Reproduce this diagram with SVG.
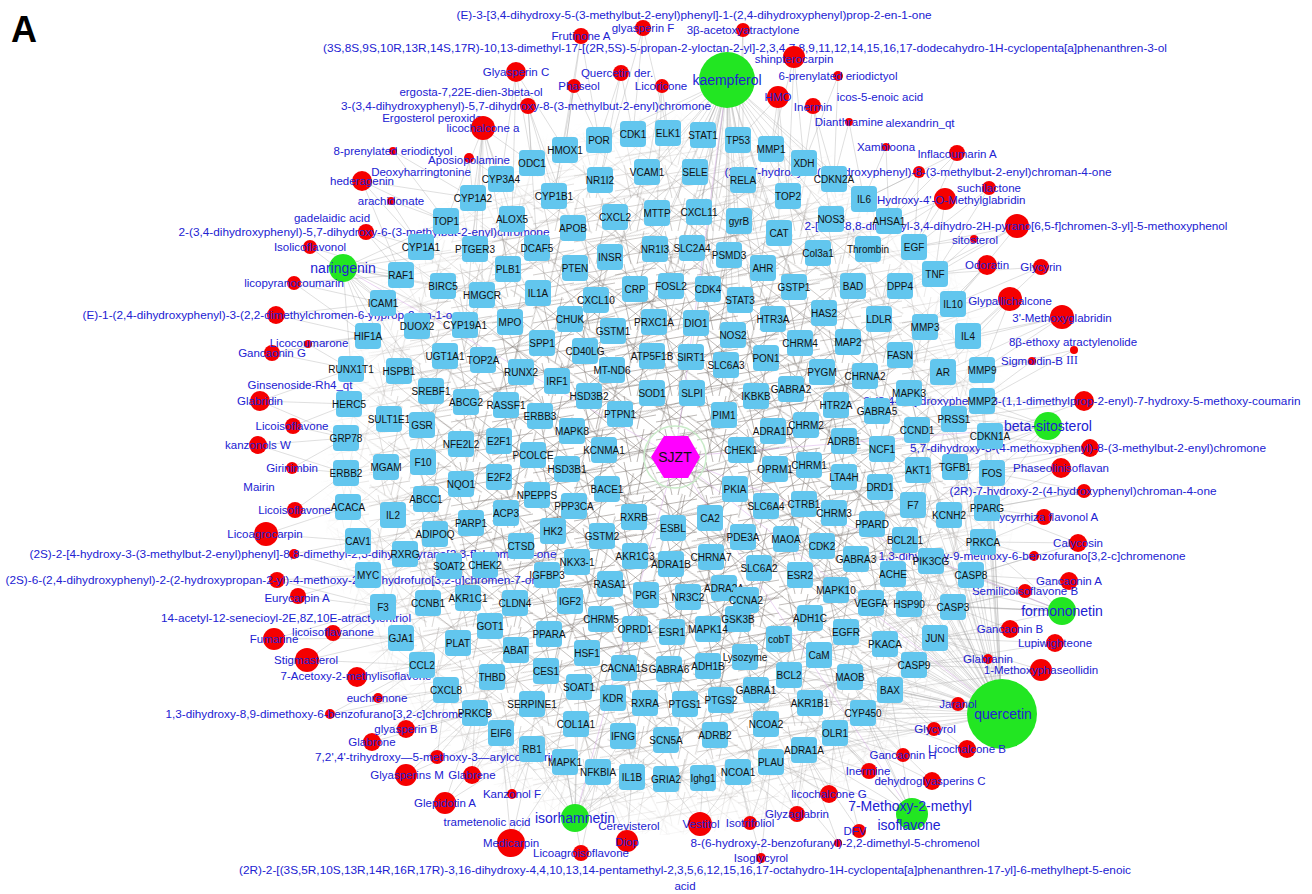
<svg xmlns="http://www.w3.org/2000/svg" xmlns:xlink="http://www.w3.org/1999/xlink" width="1312" height="894" viewBox="0 0 1312 894">
<style>
.e{fill:none;stroke:#9c9c9c;stroke-width:.6;stroke-opacity:.55}
.ep{fill:none;stroke:#d7a8e6;stroke-width:.7;stroke-opacity:.7}
.hb{fill:none;stroke:#746c66;stroke-width:.5}
.g text{font-family:"Liberation Sans",Arial,sans-serif;font-size:10px;fill:#111;text-anchor:middle;dominant-baseline:central}
.c circle{fill:#f50000}
.k circle{fill:#22e622}
.c text,.k text,.t text{font-family:"Liberation Sans",Arial,sans-serif;font-size:11.5px;fill:#2121d2;text-anchor:middle;dominant-baseline:central}
.k text{font-size:14px}
</style>
<defs>
<rect id="b" x="-13" y="-13" width="26" height="26" rx="4" fill="#62c6ee"/>
<pattern id="pa" width="41" height="33" patternUnits="userSpaceOnUse"><path class="hb" d="M0 0L41 33M41 0L0 33M0 11L41 4M0 26L41 19M9 0L16 33M29 0L22 33"/></pattern>
<pattern id="pb" width="53" height="47" patternUnits="userSpaceOnUse" patternTransform="rotate(23)"><path class="hb" d="M0 0L53 47M53 0L0 47M0 20L53 30M26 0L34 47M0 40L53 8"/></pattern>
<radialGradient id="hg" cx="0.5" cy="0.52" r="0.5"><stop offset="0" stop-color="#fff"/><stop offset="0.5" stop-color="#fff" stop-opacity="0.9"/><stop offset="0.8" stop-color="#fff" stop-opacity="0.5"/><stop offset="1" stop-color="#fff" stop-opacity="0"/></radialGradient>
<mask id="hm" maskUnits="userSpaceOnUse" x="0" y="0" width="1312" height="894"><ellipse cx="670" cy="465" rx="350" ry="370" fill="url(#hg)"/></mask>
</defs>
<rect width="1312" height="894" fill="#fff"/>
<text x="11" y="42" font-family="Liberation Sans, Arial, sans-serif" font-weight="bold" font-size="36">A</text>

<g id="connectors">
<rect x="300" y="80" width="760" height="780" fill="url(#pa)" mask="url(#hm)"/>
<rect x="300" y="80" width="760" height="780" fill="url(#pb)" mask="url(#hm)"/>
<path class="e" d="M581 36L599 140M581 36L565 150M581 36L554 196M643 28L633 134M643 28L600 180M643 28L668 133M743 30L738 140M743 30L743 180M794 57L771 149M794 57L804 163M794 57L788 196
M727 80L703 135M727 80L738 140M727 80L668 133M727 80L695 172M727 80L743 180M727 80L699 212M727 80L739 221M727 80L729 255M727 80L763 268M727 80L708 289M727 80L740 300M727 80L733 335M727 80L691 357M727 80L771 149M727 80L779 233M727 80L633 134M727 80L647 172M727 80L657 213M727 80L655 249M727 80L615 217M727 80L599 140M727 80L610 257M727 80L635 289M727 80L671 286M727 80L692 248M727 80L804 163M727 80L834 179M727 80L864 199M727 80L831 219M727 80L818 253M727 80L794 287M727 80L696 323M727 80L726 365M727 80L652 393
M516 72L532 163M516 72L501 179M516 72L565 150M516 72L512 219M621 73L633 134M621 73L599 140M621 73L600 180M574 86L565 150M574 86L599 140M574 86L554 196M662 86L668 133M662 86L647 172M662 86L657 213
M528 106L532 163M528 106L554 196M528 106L537 248M528 106L573 228M483 128L501 179M483 128L473 198M483 128L446 221M483 128L475 249M483 128L532 163M483 128L512 219M483 128L482 295M483 128L508 269M483 128L465 325
M838 76L804 163M838 76L834 179M778 97L771 149M778 97L738 140M778 97L788 196M778 97L779 233M813 106L804 163M813 106L834 179M813 106L831 219M849 122L834 179M849 122L864 199M886 147L864 199M886 147L889 221M957 153L889 221M957 153L914 247M957 153L864 199
M393 151L473 198M393 151L446 221M469 158L501 179M469 158L473 198M362 181L421 247M362 181L446 221M362 181L401 275M362 181L473 198M391 201L421 247M391 201L446 221M366 232L421 247M366 232L401 275M366 232L443 286M310 247L401 275M310 247L383 303
M343 268L401 275M343 268L421 247M343 268L383 303M343 268L368 336M343 268L443 286M343 268L417 326M343 268L351 369M343 268L399 371M343 268L446 221M343 268L465 325M343 268L482 295M343 268L431 391M343 268L475 249M294 283L383 303M294 283L368 336M294 283L401 275
M919 172L889 221M919 172L864 199M919 172L914 247M989 188L914 247M989 188L935 274M945 199L914 247M945 199L935 274M945 199L889 221M945 199L868 249M1017 226L935 274M1017 226L914 247M1017 226L953 304M1017 226L900 286M974 239L935 274M974 239L914 247M987 265L935 274M987 265L953 304M987 265L925 327M1041 267L953 304M1041 267L968 336M1041 267L935 274
M1010 299L953 304M1010 299L968 336M1010 299L925 327M1010 299L943 372M1010 299L982 370M1062 317L968 336M1062 317L982 370M1062 317L943 372M1062 317L900 355M1074 350L982 370M1074 350L982 401M1032 361L982 370M1032 361L954 419M1084 401L982 401M1084 401L990 436M1084 401L954 419
M1048 426L990 436M1048 426L982 401M1048 426L954 419M1048 426L955 467M1048 426L992 473M1048 426L917 430M1048 426L909 393M1048 426L918 470M1048 426L987 508M1048 426L882 449M1090 448L990 436M1090 448L992 473M1090 448L955 467M1061 468L992 473M1061 468L987 508M1061 468L955 467M1084 491L992 473M1084 491L987 508M1084 491L949 515
M1044 517L987 508M1044 517L983 542M1044 517L949 515M1078 543L983 542M1078 543L987 508M1078 543L971 575M1034 556L983 542M1034 556L971 575M1069 581L971 575M1069 581L953 607M1025 591L971 575M1025 591L953 607M1025 591L931 561
M1062 611L953 607M1062 611L935 638M1062 611L971 575M1062 611L909 604M1062 611L983 542M1062 611L931 561M1062 611L893 574M1062 611L871 603M1010 629L953 607M1010 629L935 638M1055 643L935 638M1055 643L914 665M988 659L935 638M988 659L914 665M1041 670L935 638M1041 670L914 665M1041 670L890 690
M1002 714L890 690M1002 714L914 665M1002 714L935 638M1002 714L863 713M1002 714L885 644M1002 714L953 607M1002 714L909 604M1002 714L871 603M1002 714L846 632M1002 714L850 677M1002 714L835 733M1002 714L810 703M1002 714L804 750M1002 714L971 575M1002 714L983 542M1002 714L931 561M1002 714L893 574M1002 714L905 540M1002 714L918 470M1002 714L917 430M1002 714L955 467M1002 714L992 473M1002 714L987 508M1002 714L949 515M1002 714L913 505M1002 714L882 449M1002 714L909 393M1002 714L954 419M1002 714L990 436M1002 714L982 401M1002 714L982 370M1002 714L789 675M1002 714L819 655M1002 714L779 639M1002 714L810 618M1002 714L836 590M1002 714L800 575M1002 714L856 559M1002 714L822 546M1002 714L872 524M1002 714L880 487M1002 714L844 477M1002 714L844 441M1002 714L766 724M1002 714L771 762M1002 714L756 690M1002 714L745 657M1002 714L738 619M1002 714L786 539M1002 714L766 506M1002 714L834 513
M958 704L863 713M958 704L890 690M934 729L863 713M934 729L890 690M934 729L835 733M967 749L863 713M967 749L890 690M903 755L863 713M903 755L835 733M932 781L835 733M932 781L863 713M869 771L835 733M869 771L804 750M829 794L804 750M829 794L771 762M829 794L835 733
M912 814L835 733M912 814L863 713M912 814L804 750M912 814L771 762M912 814L810 703M912 814L850 677M912 814L890 690M859 831L804 750M859 831L835 733M797 814L771 762M797 814L738 772M797 814L804 750M750 823L738 772M750 823L771 762M700 824L703 778M700 824L738 772M700 824L666 779M838 843L804 750M838 843L771 762M761 858L738 772M761 858L771 762
M627 841L632 777M627 841L598 772M581 853L565 762M581 853L598 772M511 843L532 749M511 843L501 733M511 843L565 762M575 818L565 762M575 818L598 772M575 818L632 777M575 818L532 749M575 818L501 733M575 818L666 779M575 818L623 736M575 818L576 724M575 818L666 740M575 818L613 698M575 818L579 687
M445 803L501 733M445 803L532 749M445 803L475 713M512 794L501 733M512 794L532 749M406 775L475 713M406 775L501 733M472 775L501 733M472 775L475 713M437 757L475 713M437 757L446 690M372 742L446 690M372 742L475 713M406 729L446 690M406 729L475 713M330 714L446 690M330 714L422 665M378 698L422 665M378 698L446 690M357 677L422 665M357 677L401 638
M307 660L401 638M307 660L422 665M307 660L383 607M274 639L383 607M274 639L401 638M333 633L383 607M333 633L401 638M298 596L383 607M298 596L368 575M277 580L368 575M277 580L383 607M294 554L358 541M294 554L368 575M266 534L358 541M266 534L348 507M295 510L348 507M295 510L346 473M292 468L346 473M292 468L346 438M258 445L346 438M258 445L346 473M293 426L346 438M293 426L349 404M260 401L349 404M260 401L346 438M260 401L351 369M272 353L351 369M272 353L368 336M308 344L368 336M308 344L351 369M276 315L383 303M276 315L368 336"/>
<path class="ep" d="M675 457L727 80M675 457L1002 714M675 457L343 268M675 457L1048 426M675 457L1062 611M675 457L912 814M675 457L575 818"/>
<circle cx="675" cy="457" r="31" fill="none" stroke="#c9ebc9" stroke-width="1.5"/>
</g>

<g id="compounds">
<g id="c1" class="t"><text x="694" y="15" textLength="475" lengthAdjust="spacingAndGlyphs">(E)-3-[3,4-dihydroxy-5-(3-methylbut-2-enyl)phenyl]-1-(2,4-dihydroxyphenyl)prop-2-en-1-one</text></g>
<g id="c2" class="c" transform="translate(581 36)"><circle r="8"/><text>Frutinone A</text></g>
<g id="c3" class="c" transform="translate(643 28)"><circle r="8"/><text>glyasperin F</text></g>
<g id="c4" class="t"><text x="745" y="48" textLength="844" lengthAdjust="spacingAndGlyphs">(3S,8S,9S,10R,13R,14S,17R)-10,13-dimethyl-17-[(2R,5S)-5-propan-2-yloctan-2-yl]-2,3,4,7,8,9,11,12,14,15,16,17-dodecahydro-1H-cyclopenta[a]phenanthren-3-ol</text></g>
<g id="c5" class="c" transform="translate(743 30)"><circle r="7"/><text>3β-acetoxyatractylone</text></g>
<g id="c6" class="c" transform="translate(794 57)"><circle r="11"/><text y="2">shinpterocarpin</text></g>
<g id="c7" class="k" transform="translate(727 80)"><circle r="28"/><text>kaempferol</text></g>
<g id="c8" class="c" transform="translate(516 72)"><circle r="10"/><text>Glyasperin C</text></g>
<g id="c9" class="c" transform="translate(621 73)"><circle r="8"/><text x="-4">Quercetin der.</text></g>
<g id="c10" class="c" transform="translate(574 86)"><circle r="7"/><text x="5">Phaseol</text></g>
<g id="c11" class="c" transform="translate(662 86)"><circle r="7"/><text x="-1">Licoricone</text></g>
<g id="c12" class="t"><text x="471" y="92">ergosta-7,22E-dien-3beta-ol</text></g>
<g id="c13" class="c" transform="translate(528 106)"><circle r="8"/><text x="-2" textLength="370" lengthAdjust="spacingAndGlyphs">3-(3,4-dihydroxyphenyl)-5,7-dihydroxy-8-(3-methylbut-2-enyl)chromone</text></g>
<g id="c14" class="t"><text x="432" y="118">Ergosterol peroxide</text></g>
<g id="c15" class="c" transform="translate(483 128)"><circle r="12"/><text>licochalcone a</text></g>
<g id="c16" class="c" transform="translate(838 76)"><circle r="5"/><text>6-prenylated eriodictyol</text></g>
<g id="c17" class="c" transform="translate(778 97)"><circle r="11"/><text>HMO</text></g>
<g id="c18" class="c" transform="translate(813 106)"><circle r="8"/><text y="1">Inermin</text></g>
<g id="c19" class="t"><text x="880" y="97">icos-5-enoic acid</text></g>
<g id="c20" class="c" transform="translate(849 122)"><circle r="4"/><text>Dianthramine</text></g>
<g id="c21" class="t"><text x="920" y="123">alexandrin_qt</text></g>
<g id="c22" class="c" transform="translate(886 147)"><circle r="4"/><text>Xambioona</text></g>
<g id="c23" class="c" transform="translate(957 153)"><circle r="8"/><text y="1">Inflacoumarin A</text></g>
<g id="c24" class="c" transform="translate(393 151)"><circle r="4"/><text>8-prenylated eriodictyol</text></g>
<g id="c25" class="c" transform="translate(469 158)"><circle r="5"/><text y="2">Aposiopolamine</text></g>
<g id="c26" class="t"><text x="421" y="172">Deoxyharringtonine</text></g>
<g id="c27" class="c" transform="translate(362 181)"><circle r="10"/><text>hederagenin</text></g>
<g id="c28" class="c" transform="translate(391 201)"><circle r="4"/><text>arachidonate</text></g>
<g id="c29" class="t"><text x="332" y="218">gadelaidic acid</text></g>
<g id="c30" class="c" transform="translate(366 232)"><circle r="8"/><text x="-2" textLength="371" lengthAdjust="spacingAndGlyphs">2-(3,4-dihydroxyphenyl)-5,7-dihydroxy-6-(3-methylbut-2-enyl)chromone</text></g>
<g id="c31" class="c" transform="translate(310 247)"><circle r="7"/><text>Isolicoflavonol</text></g>
<g id="c32" class="k" transform="translate(343 268)"><circle r="14"/><text>naringenin</text></g>
<g id="c33" class="c" transform="translate(294 283)"><circle r="7"/><text>licopyranocoumarin</text></g>
<g id="c34" class="c" transform="translate(919 172)"><circle r="6"/><text x="-1" textLength="387" lengthAdjust="spacingAndGlyphs">(2S)-7-hydroxy-2-(4-hydroxyphenyl)-8-(3-methylbut-2-enyl)chroman-4-one</text></g>
<g id="c35" class="c" transform="translate(989 188)"><circle r="7"/><text>suchilactone</text></g>
<g id="c36" class="c" transform="translate(945 199)"><circle r="11"/><text y="1">3'-Hydroxy-4'-O-Methylglabridin</text></g>
<g id="c37" class="c" transform="translate(1017 226)"><circle r="12"/><text x="-1" textLength="423" lengthAdjust="spacingAndGlyphs">2-[(3R)-8,8-dimethyl-3,4-dihydro-2H-pyrano[6,5-f]chromen-3-yl]-5-methoxyphenol</text></g>
<g id="c38" class="c" transform="translate(974 239)"><circle r="4"/><text x="1" y="1">sitosterol</text></g>
<g id="c39" class="c" transform="translate(987 265)"><circle r="10"/><text>Odoratin</text></g>
<g id="c40" class="c" transform="translate(1041 267)"><circle r="8"/><text>Glycyrin</text></g>
<g id="c41" class="c" transform="translate(1010 299)"><circle r="12"/><text y="2">Glypallichalcone</text></g>
<g id="c42" class="c" transform="translate(1062 317)"><circle r="12"/><text y="1">3'-Methoxyglabridin</text></g>
<g id="c43" class="c" transform="translate(1074 350)"><circle r="4"/><text x="-1" y="-8">8β-ethoxy atractylenolide</text><text x="-2" y="10" style="font-family:'Liberation Serif',serif">III</text></g>
<g id="c44" class="c" transform="translate(1032 361)"><circle r="4"/><text>Sigmoidin-B</text></g>
<g id="c45" class="c" transform="translate(1084 401)"><circle r="10"/><text x="-2" textLength="437" lengthAdjust="spacingAndGlyphs">3-(3,4-dihydroxyphenyl)-8-(1,1-dimethylprop-2-enyl)-7-hydroxy-5-methoxy-coumarin</text></g>
<g id="c46" class="k" transform="translate(1048 426)"><circle r="14"/><text>beta-sitosterol</text></g>
<g id="c47" class="c" transform="translate(1090 448)"><circle r="9"/><text x="-2" textLength="356" lengthAdjust="spacingAndGlyphs">5,7-dihydroxy-3-(4-methoxyphenyl)-8-(3-methylbut-2-enyl)chromone</text></g>
<g id="c48" class="c" transform="translate(1061 468)"><circle r="10"/><text>Phaseolinisoflavan</text></g>
<g id="c49" class="c" transform="translate(1084 491)"><circle r="7"/><text x="-1" textLength="267" lengthAdjust="spacingAndGlyphs">(2R)-7-hydroxy-2-(4-hydroxyphenyl)chroman-4-one</text></g>
<g id="c50" class="c" transform="translate(1044 517)"><circle r="8"/><text x="-1">Glycyrrhiza flavonol A</text></g>
<g id="c51" class="c" transform="translate(1078 543)"><circle r="9"/><text>Calycosin</text></g>
<g id="c52" class="c" transform="translate(1034 556)"><circle r="5"/><text x="-2" textLength="307" lengthAdjust="spacingAndGlyphs">1,3-dihydroxy-9-methoxy-6-benzofurano[3,2-c]chromenone</text></g>
<g id="c53" class="c" transform="translate(1069 581)"><circle r="9"/><text>Gancaonin A</text></g>
<g id="c54" class="c" transform="translate(1025 591)"><circle r="7"/><text>Semilicoisoflavone B</text></g>
<g id="c55" class="k" transform="translate(1062 611)"><circle r="14"/><text>formononetin</text></g>
<g id="c56" class="c" transform="translate(1010 629)"><circle r="9"/><text>Gancaonin B</text></g>
<g id="c57" class="c" transform="translate(1055 643)"><circle r="9"/><text>Lupiwighteone</text></g>
<g id="c58" class="c" transform="translate(988 659)"><circle r="5"/><text>Glabranin</text></g>
<g id="c59" class="c" transform="translate(1041 670)"><circle r="11"/><text>1-Methoxyphaseollidin</text></g>
<g id="c60" class="k" transform="translate(1002 714)"><circle r="35"/><text x="1">quercetin</text></g>
<g id="c61" class="c" transform="translate(958 704)"><circle r="7"/><text>Jaranol</text></g>
<g id="c62" class="c" transform="translate(934 729)"><circle r="7"/><text x="1">Glycyrol</text></g>
<g id="c63" class="c" transform="translate(967 749)"><circle r="9"/><text>Licochalcone B</text></g>
<g id="c64" class="c" transform="translate(903 755)"><circle r="7"/><text>Gancaonin H</text></g>
<g id="c65" class="c" transform="translate(932 781)"><circle r="9"/><text x="-2">dehydroglyasperins C</text></g>
<g id="c66" class="c" transform="translate(869 771)"><circle r="8"/><text x="-1">Inermine</text></g>
<g id="c67" class="c" transform="translate(829 794)"><circle r="9"/><text>licochalcone G</text></g>
<g id="c68" class="k" transform="translate(912 814)"><circle r="16"/><text x="-2" y="-8">7-Methoxy-2-methyl</text><text x="-3" y="11">isoflavone</text></g>
<g id="c69" class="c" transform="translate(859 831)"><circle r="7"/><text x="-4">DFV</text></g>
<g id="c70" class="c" transform="translate(797 814)"><circle r="8"/><text>Glyzaglabrin</text></g>
<g id="c71" class="c" transform="translate(750 823)"><circle r="7"/><text>Isotrifoliol</text></g>
<g id="c72" class="c" transform="translate(700 824)"><circle r="12"/><text x="1">Vestitol</text></g>
<g id="c73" class="c" transform="translate(838 843)"><circle r="4"/><text x="-3" textLength="289" lengthAdjust="spacingAndGlyphs">8-(6-hydroxy-2-benzofuranyl)-2,2-dimethyl-5-chromenol</text></g>
<g id="c74" class="c" transform="translate(761 858)"><circle r="5"/><text>Isoglycyrol</text></g>
<g id="c75" class="t"><text x="685" y="870" textLength="892" lengthAdjust="spacingAndGlyphs">(2R)-2-[(3S,5R,10S,13R,14R,16R,17R)-3,16-dihydroxy-4,4,10,13,14-pentamethyl-2,3,5,6,12,15,16,17-octahydro-1H-cyclopenta[a]phenanthren-17-yl]-6-methylhept-5-enoic</text><text x="685" y="886">acid</text></g>
<g id="c76" class="c" transform="translate(627 841)"><circle r="11"/><text y="1">Diop</text></g>
<g id="c77" class="t"><text x="629" y="826">Cerevisterol</text></g>
<g id="c78" class="c" transform="translate(581 853)"><circle r="8"/><text>Licoagroisoflavone</text></g>
<g id="c79" class="c" transform="translate(511 843)"><circle r="14"/><text>Medicarpin</text></g>
<g id="c80" class="k" transform="translate(575 818)"><circle r="14"/><text>isorhamnetin</text></g>
<g id="c81" class="t"><text x="487" y="822">trametenolic acid</text></g>
<g id="c82" class="c" transform="translate(445 803)"><circle r="11"/><text>Glepidotin A</text></g>
<g id="c83" class="c" transform="translate(512 794)"><circle r="5"/><text>Kanzonol F</text></g>
<g id="c84" class="c" transform="translate(406 775)"><circle r="11"/><text x="1">Glyasperins M</text></g>
<g id="c85" class="c" transform="translate(472 775)"><circle r="9"/><text>Glabrene</text></g>
<g id="c86" class="c" transform="translate(437 757)"><circle r="7"/><text x="-1" textLength="242" lengthAdjust="spacingAndGlyphs">7,2',4'-trihydroxy—5-methoxy-3—arylcoumarin</text></g>
<g id="c87" class="c" transform="translate(372 742)"><circle r="9"/><text>Glabrone</text></g>
<g id="c88" class="c" transform="translate(406 729)"><circle r="9"/><text>glyasperin B</text></g>
<g id="c89" class="c" transform="translate(330 714)"><circle r="5"/><text x="-2" textLength="325" lengthAdjust="spacingAndGlyphs">1,3-dihydroxy-8,9-dimethoxy-6-benzofurano[3,2-c]chromenone</text></g>
<g id="c90" class="c" transform="translate(378 698)"><circle r="5"/><text x="-1">euchrenone</text></g>
<g id="c91" class="c" transform="translate(357 677)"><circle r="10"/><text x="-1" y="-1">7-Acetoxy-2-methylisoflavone</text></g>
<g id="c92" class="c" transform="translate(307 660)"><circle r="12"/><text x="-1">Stigmasterol</text></g>
<g id="c93" class="c" transform="translate(274 639)"><circle r="11"/><text>Fumarine</text></g>
<g id="c94" class="c" transform="translate(333 633)"><circle r="8"/><text y="-1">licoisoflavanone</text></g>
<g id="c95" class="t"><text x="286" y="618" textLength="250" lengthAdjust="spacingAndGlyphs">14-acetyl-12-senecioyl-2E,8Z,10E-atractylentriol</text></g>
<g id="c96" class="c" transform="translate(298 596)"><circle r="8"/><text x="-1" y="2">Eurycarpin A</text></g>
<g id="c97" class="c" transform="translate(277 580)"><circle r="8"/><text x="-2" textLength="539" lengthAdjust="spacingAndGlyphs">(2S)-6-(2,4-dihydroxyphenyl)-2-(2-hydroxypropan-2-yl)-4-methoxy-2,3-dihydrofuro[3,2-g]chromen-7-one</text></g>
<g id="c98" class="c" transform="translate(294 554)"><circle r="5"/><text x="-1" textLength="527" lengthAdjust="spacingAndGlyphs">(2S)-2-[4-hydroxy-3-(3-methylbut-2-enyl)phenyl]-8,8-dimethyl-2,3-dihydropyrano[2,3-f]chromen-4-one</text></g>
<g id="c99" class="c" transform="translate(266 534)"><circle r="12"/><text x="-1">Licoagrocarpin</text></g>
<g id="c100" class="c" transform="translate(295 510)"><circle r="8"/><text x="5">Licoisoflavone B</text></g>
<g id="c101" class="t"><text x="259" y="487">Mairin</text></g>
<g id="c102" class="c" transform="translate(292 468)"><circle r="6"/><text>Girinimbin</text></g>
<g id="c103" class="c" transform="translate(258 445)"><circle r="9"/><text>kanzonols W</text></g>
<g id="c104" class="c" transform="translate(293 426)"><circle r="8"/><text x="-1">Licoisoflavone</text></g>
<g id="c105" class="c" transform="translate(260 401)"><circle r="10"/><text>Glabridin</text></g>
<g id="c106" class="t"><text x="300" y="385">Ginsenoside-Rh4_qt</text></g>
<g id="c107" class="c" transform="translate(272 353)"><circle r="8"/><text>Gancaonin G</text></g>
<g id="c108" class="c" transform="translate(308 344)"><circle r="4"/><text x="1" y="-1">Licocoumarone</text></g>
<g id="c109" class="c" transform="translate(276 315)"><circle r="9"/><text x="-2" textLength="383" lengthAdjust="spacingAndGlyphs">(E)-1-(2,4-dihydroxyphenyl)-3-(2,2-dimethylchromen-6-yl)prop-2-en-1-one</text></g>
</g>

<g id="genes">
<g id="g-POR" class="g" transform="translate(599 140)"><use href="#b"/><text>POR</text></g>
<g id="g-CDK1" class="g" transform="translate(633 134)"><use href="#b"/><text>CDK1</text></g>
<g id="g-ELK1" class="g" transform="translate(668 133)"><use href="#b"/><text>ELK1</text></g>
<g id="g-STAT1" class="g" transform="translate(703 135)"><use href="#b"/><text>STAT1</text></g>
<g id="g-TP53" class="g" transform="translate(738 140)"><use href="#b"/><text>TP53</text></g>
<g id="g-MMP1" class="g" transform="translate(771 149)"><use href="#b"/><text>MMP1</text></g>
<g id="g-XDH" class="g" transform="translate(804 163)"><use href="#b"/><text>XDH</text></g>
<g id="g-HMOX1" class="g" transform="translate(565 150)"><use href="#b"/><text>HMOX1</text></g>
<g id="g-ODC1" class="g" transform="translate(532 163)"><use href="#b"/><text>ODC1</text></g>
<g id="g-NR1I2" class="g" transform="translate(600 180)"><use href="#b"/><text>NR1I2</text></g>
<g id="g-VCAM1" class="g" transform="translate(647 172)"><use href="#b"/><text>VCAM1</text></g>
<g id="g-SELE" class="g" transform="translate(695 172)"><use href="#b"/><text>SELE</text></g>
<g id="g-RELA" class="g" transform="translate(743 180)"><use href="#b"/><text>RELA</text></g>
<g id="g-CDKN2A" class="g" transform="translate(834 179)"><use href="#b"/><text>CDKN2A</text></g>
<g id="g-CYP3A4" class="g" transform="translate(501 179)"><use href="#b"/><text>CYP3A4</text></g>
<g id="g-CYP1B1" class="g" transform="translate(554 196)"><use href="#b"/><text>CYP1B1</text></g>
<g id="g-CYP1A2" class="g" transform="translate(473 198)"><use href="#b"/><text>CYP1A2</text></g>
<g id="g-TOP2" class="g" transform="translate(788 196)"><use href="#b"/><text>TOP2</text></g>
<g id="g-IL6" class="g" transform="translate(864 199)"><use href="#b"/><text>IL6</text></g>
<g id="g-ALOX5" class="g" transform="translate(512 219)"><use href="#b"/><text>ALOX5</text></g>
<g id="g-CXCL2" class="g" transform="translate(615 217)"><use href="#b"/><text>CXCL2</text></g>
<g id="g-MTTP" class="g" transform="translate(657 213)"><use href="#b"/><text>MTTP</text></g>
<g id="g-CXCL11" class="g" transform="translate(699 212)"><use href="#b"/><text>CXCL11</text></g>
<g id="g-gyrB" class="g" transform="translate(739 221)"><use href="#b"/><text>gyrB</text></g>
<g id="g-NOS3" class="g" transform="translate(831 219)"><use href="#b"/><text>NOS3</text></g>
<g id="g-AHSA1" class="g" transform="translate(889 221)"><use href="#b"/><text>AHSA1</text></g>
<g id="g-TOP1" class="g" transform="translate(446 221)"><use href="#b"/><text>TOP1</text></g>
<g id="g-APOB" class="g" transform="translate(573 228)"><use href="#b"/><text>APOB</text></g>
<g id="g-CAT" class="g" transform="translate(779 233)"><use href="#b"/><text>CAT</text></g>
<g id="g-NR1I3" class="g" transform="translate(655 249)"><use href="#b"/><text>NR1I3</text></g>
<g id="g-CYP1A1" class="g" transform="translate(421 247)"><use href="#b"/><text>CYP1A1</text></g>
<g id="g-PTGER3" class="g" transform="translate(475 249)"><use href="#b"/><text>PTGER3</text></g>
<g id="g-DCAF5" class="g" transform="translate(537 248)"><use href="#b"/><text>DCAF5</text></g>
<g id="g-SLC2A4" class="g" transform="translate(692 248)"><use href="#b"/><text>SLC2A4</text></g>
<g id="g-PSMD3" class="g" transform="translate(729 255)"><use href="#b"/><text>PSMD3</text></g>
<g id="g-Col3a1" class="g" transform="translate(818 253)"><use href="#b"/><text>Col3a1</text></g>
<g id="g-Thrombin" class="g" transform="translate(868 249)"><use href="#b"/><text>Thrombin</text></g>
<g id="g-EGF" class="g" transform="translate(914 247)"><use href="#b"/><text>EGF</text></g>
<g id="g-INSR" class="g" transform="translate(610 257)"><use href="#b"/><text>INSR</text></g>
<g id="g-PTEN" class="g" transform="translate(575 268)"><use href="#b"/><text>PTEN</text></g>
<g id="g-PLB1" class="g" transform="translate(508 269)"><use href="#b"/><text>PLB1</text></g>
<g id="g-AHR" class="g" transform="translate(763 268)"><use href="#b"/><text>AHR</text></g>
<g id="g-TNF" class="g" transform="translate(935 274)"><use href="#b"/><text>TNF</text></g>
<g id="g-RAF1" class="g" transform="translate(401 275)"><use href="#b"/><text>RAF1</text></g>
<g id="g-BIRC5" class="g" transform="translate(443 286)"><use href="#b"/><text>BIRC5</text></g>
<g id="g-HMGCR" class="g" transform="translate(482 295)"><use href="#b"/><text>HMGCR</text></g>
<g id="g-IL1A" class="g" transform="translate(538 293)"><use href="#b"/><text>IL1A</text></g>
<g id="g-CRP" class="g" transform="translate(635 289)"><use href="#b"/><text>CRP</text></g>
<g id="g-FOSL2" class="g" transform="translate(671 286)"><use href="#b"/><text>FOSL2</text></g>
<g id="g-CDK4" class="g" transform="translate(708 289)"><use href="#b"/><text>CDK4</text></g>
<g id="g-GSTP1" class="g" transform="translate(794 287)"><use href="#b"/><text>GSTP1</text></g>
<g id="g-BAD" class="g" transform="translate(853 286)"><use href="#b"/><text>BAD</text></g>
<g id="g-DPP4" class="g" transform="translate(900 286)"><use href="#b"/><text>DPP4</text></g>
<g id="g-CXCL10" class="g" transform="translate(596 300)"><use href="#b"/><text>CXCL10</text></g>
<g id="g-STAT3" class="g" transform="translate(740 300)"><use href="#b"/><text>STAT3</text></g>
<g id="g-ICAM1" class="g" transform="translate(383 303)"><use href="#b"/><text>ICAM1</text></g>
<g id="g-IL10" class="g" transform="translate(953 304)"><use href="#b"/><text>IL10</text></g>
<g id="g-HAS2" class="g" transform="translate(824 313)"><use href="#b"/><text>HAS2</text></g>
<g id="g-HTR3A" class="g" transform="translate(773 319)"><use href="#b"/><text>HTR3A</text></g>
<g id="g-LDLR" class="g" transform="translate(879 319)"><use href="#b"/><text>LDLR</text></g>
<g id="g-DIO1" class="g" transform="translate(696 323)"><use href="#b"/><text>DIO1</text></g>
<g id="g-MMP3" class="g" transform="translate(925 327)"><use href="#b"/><text>MMP3</text></g>
<g id="g-HIF1A" class="g" transform="translate(368 336)"><use href="#b"/><text>HIF1A</text></g>
<g id="g-DUOX2" class="g" transform="translate(417 326)"><use href="#b"/><text>DUOX2</text></g>
<g id="g-CYP19A1" class="g" transform="translate(465 325)"><use href="#b"/><text>CYP19A1</text></g>
<g id="g-MPO" class="g" transform="translate(510 322)"><use href="#b"/><text>MPO</text></g>
<g id="g-CHUK" class="g" transform="translate(570 319)"><use href="#b"/><text>CHUK</text></g>
<g id="g-GSTM1" class="g" transform="translate(613 331)"><use href="#b"/><text>GSTM1</text></g>
<g id="g-PRXC1A" class="g" transform="translate(654 322)"><use href="#b"/><text>PRXC1A</text></g>
<g id="g-NOS2" class="g" transform="translate(733 335)"><use href="#b"/><text>NOS2</text></g>
<g id="g-CHRM4" class="g" transform="translate(800 343)"><use href="#b"/><text>CHRM4</text></g>
<g id="g-MAP2" class="g" transform="translate(848 342)"><use href="#b"/><text>MAP2</text></g>
<g id="g-IL4" class="g" transform="translate(968 336)"><use href="#b"/><text>IL4</text></g>
<g id="g-SPP1" class="g" transform="translate(542 343)"><use href="#b"/><text>SPP1</text></g>
<g id="g-CD40LG" class="g" transform="translate(585 351)"><use href="#b"/><text>CD40LG</text></g>
<g id="g-ATP5F1B" class="g" transform="translate(652 356)"><use href="#b"/><text>ATP5F1B</text></g>
<g id="g-SIRT1" class="g" transform="translate(691 357)"><use href="#b"/><text>SIRT1</text></g>
<g id="g-SLC6A3" class="g" transform="translate(726 365)"><use href="#b"/><text>SLC6A3</text></g>
<g id="g-PON1" class="g" transform="translate(766 358)"><use href="#b"/><text>PON1</text></g>
<g id="g-FASN" class="g" transform="translate(900 355)"><use href="#b"/><text>FASN</text></g>
<g id="g-RUNX1T1" class="g" transform="translate(351 369)"><use href="#b"/><text>RUNX1T1</text></g>
<g id="g-HSPB1" class="g" transform="translate(399 371)"><use href="#b"/><text>HSPB1</text></g>
<g id="g-UGT1A1" class="g" transform="translate(445 356)"><use href="#b"/><text>UGT1A1</text></g>
<g id="g-TOP2A" class="g" transform="translate(483 360)"><use href="#b"/><text>TOP2A</text></g>
<g id="g-RUNX2" class="g" transform="translate(521 372)"><use href="#b"/><text>RUNX2</text></g>
<g id="g-IRF1" class="g" transform="translate(557 381)"><use href="#b"/><text>IRF1</text></g>
<g id="g-MT-ND6" class="g" transform="translate(612 370)"><use href="#b"/><text>MT-ND6</text></g>
<g id="g-PYGM" class="g" transform="translate(822 372)"><use href="#b"/><text>PYGM</text></g>
<g id="g-CHRNA2" class="g" transform="translate(865 376)"><use href="#b"/><text>CHRNA2</text></g>
<g id="g-AR" class="g" transform="translate(943 372)"><use href="#b"/><text>AR</text></g>
<g id="g-MMP9" class="g" transform="translate(982 370)"><use href="#b"/><text>MMP9</text></g>
<g id="g-SOD1" class="g" transform="translate(652 393)"><use href="#b"/><text>SOD1</text></g>
<g id="g-SLPI" class="g" transform="translate(692 393)"><use href="#b"/><text>SLPI</text></g>
<g id="g-IKBKB" class="g" transform="translate(756 396)"><use href="#b"/><text>IKBKB</text></g>
<g id="g-GABRA2" class="g" transform="translate(791 389)"><use href="#b"/><text>GABRA2</text></g>
<g id="g-MAPK3" class="g" transform="translate(909 393)"><use href="#b"/><text>MAPK3</text></g>
<g id="g-SREBF1" class="g" transform="translate(431 391)"><use href="#b"/><text>SREBF1</text></g>
<g id="g-HERC5" class="g" transform="translate(349 404)"><use href="#b"/><text>HERC5</text></g>
<g id="g-ABCG2" class="g" transform="translate(466 402)"><use href="#b"/><text>ABCG2</text></g>
<g id="g-RASSF1" class="g" transform="translate(506 405)"><use href="#b"/><text>RASSF1</text></g>
<g id="g-HSD3B2" class="g" transform="translate(589 396)"><use href="#b"/><text>HSD3B2</text></g>
<g id="g-ERBB3" class="g" transform="translate(540 416)"><use href="#b"/><text>ERBB3</text></g>
<g id="g-PTPN1" class="g" transform="translate(620 414)"><use href="#b"/><text>PTPN1</text></g>
<g id="g-PIM1" class="g" transform="translate(724 415)"><use href="#b"/><text>PIM1</text></g>
<g id="g-HTR2A" class="g" transform="translate(836 405)"><use href="#b"/><text>HTR2A</text></g>
<g id="g-GABRA5" class="g" transform="translate(877 411)"><use href="#b"/><text>GABRA5</text></g>
<g id="g-PRSS1" class="g" transform="translate(954 419)"><use href="#b"/><text>PRSS1</text></g>
<g id="g-MMP2" class="g" transform="translate(982 401)"><use href="#b"/><text>MMP2</text></g>
<g id="g-SULT1E1" class="g" transform="translate(389 419)"><use href="#b"/><text>SULT1E1</text></g>
<g id="g-GSR" class="g" transform="translate(422 425)"><use href="#b"/><text>GSR</text></g>
<g id="g-GRP78" class="g" transform="translate(346 438)"><use href="#b"/><text>GRP78</text></g>
<g id="g-MAPK8" class="g" transform="translate(572 431)"><use href="#b"/><text>MAPK8</text></g>
<g id="g-ADRA1D" class="g" transform="translate(773 431)"><use href="#b"/><text>ADRA1D</text></g>
<g id="g-CHRM2" class="g" transform="translate(806 425)"><use href="#b"/><text>CHRM2</text></g>
<g id="g-ADRB1" class="g" transform="translate(844 441)"><use href="#b"/><text>ADRB1</text></g>
<g id="g-CCND1" class="g" transform="translate(917 430)"><use href="#b"/><text>CCND1</text></g>
<g id="g-CDKN1A" class="g" transform="translate(990 436)"><use href="#b"/><text>CDKN1A</text></g>
<g id="g-NFE2L2" class="g" transform="translate(461 444)"><use href="#b"/><text>NFE2L2</text></g>
<g id="g-E2F1" class="g" transform="translate(499 441)"><use href="#b"/><text>E2F1</text></g>
<g id="g-KCNMA1" class="g" transform="translate(604 450)"><use href="#b"/><text>KCNMA1</text></g>
<g id="g-CHEK1" class="g" transform="translate(741 450)"><use href="#b"/><text>CHEK1</text></g>
<g id="g-NCF1" class="g" transform="translate(882 449)"><use href="#b"/><text>NCF1</text></g>
<g id="g-PCOLCE" class="g" transform="translate(533 455)"><use href="#b"/><text>PCOLCE</text></g>
<g id="g-ERBB2" class="g" transform="translate(346 473)"><use href="#b"/><text>ERBB2</text></g>
<g id="g-MGAM" class="g" transform="translate(386 467)"><use href="#b"/><text>MGAM</text></g>
<g id="g-F10" class="g" transform="translate(423 462)"><use href="#b"/><text>F10</text></g>
<g id="g-HSD3B1" class="g" transform="translate(567 469)"><use href="#b"/><text>HSD3B1</text></g>
<g id="g-OPRM1" class="g" transform="translate(775 469)"><use href="#b"/><text>OPRM1</text></g>
<g id="g-CHRM1" class="g" transform="translate(809 465)"><use href="#b"/><text>CHRM1</text></g>
<g id="g-LTA4H" class="g" transform="translate(844 477)"><use href="#b"/><text>LTA4H</text></g>
<g id="g-AKT1" class="g" transform="translate(918 470)"><use href="#b"/><text>AKT1</text></g>
<g id="g-TGFB1" class="g" transform="translate(955 467)"><use href="#b"/><text>TGFB1</text></g>
<g id="g-FOS" class="g" transform="translate(992 473)"><use href="#b"/><text>FOS</text></g>
<g id="g-E2F2" class="g" transform="translate(499 477)"><use href="#b"/><text>E2F2</text></g>
<g id="g-NQO1" class="g" transform="translate(461 484)"><use href="#b"/><text>NQO1</text></g>
<g id="g-NPEPPS" class="g" transform="translate(537 495)"><use href="#b"/><text>NPEPPS</text></g>
<g id="g-BACE1" class="g" transform="translate(607 489)"><use href="#b"/><text>BACE1</text></g>
<g id="g-DRD1" class="g" transform="translate(880 487)"><use href="#b"/><text>DRD1</text></g>
<g id="g-PKIA" class="g" transform="translate(735 489)"><use href="#b"/><text>PKIA</text></g>
<g id="g-ACACA" class="g" transform="translate(348 507)"><use href="#b"/><text>ACACA</text></g>
<g id="g-IL2" class="g" transform="translate(393 515)"><use href="#b"/><text>IL2</text></g>
<g id="g-ABCC1" class="g" transform="translate(426 499)"><use href="#b"/><text>ABCC1</text></g>
<g id="g-ACP3" class="g" transform="translate(506 513)"><use href="#b"/><text>ACP3</text></g>
<g id="g-PPP3CA" class="g" transform="translate(574 506)"><use href="#b"/><text>PPP3CA</text></g>
<g id="g-RXRB" class="g" transform="translate(634 517)"><use href="#b"/><text>RXRB</text></g>
<g id="g-SLC6A4" class="g" transform="translate(766 506)"><use href="#b"/><text>SLC6A4</text></g>
<g id="g-CTRB1" class="g" transform="translate(804 504)"><use href="#b"/><text>CTRB1</text></g>
<g id="g-CHRM3" class="g" transform="translate(834 513)"><use href="#b"/><text>CHRM3</text></g>
<g id="g-F7" class="g" transform="translate(913 505)"><use href="#b"/><text>F7</text></g>
<g id="g-KCNH2" class="g" transform="translate(949 515)"><use href="#b"/><text>KCNH2</text></g>
<g id="g-PPARG" class="g" transform="translate(987 508)"><use href="#b"/><text>PPARG</text></g>
<g id="g-PARP1" class="g" transform="translate(471 523)"><use href="#b"/><text>PARP1</text></g>
<g id="g-HK2" class="g" transform="translate(553 531)"><use href="#b"/><text>HK2</text></g>
<g id="g-CA2" class="g" transform="translate(710 518)"><use href="#b"/><text>CA2</text></g>
<g id="g-ESBL" class="g" transform="translate(673 528)"><use href="#b"/><text>ESBL</text></g>
<g id="g-PPARD" class="g" transform="translate(872 524)"><use href="#b"/><text>PPARD</text></g>
<g id="g-CAV1" class="g" transform="translate(358 541)"><use href="#b"/><text>CAV1</text></g>
<g id="g-ADIPOQ" class="g" transform="translate(435 534)"><use href="#b"/><text>ADIPOQ</text></g>
<g id="g-GSTM2" class="g" transform="translate(602 536)"><use href="#b"/><text>GSTM2</text></g>
<g id="g-PDE3A" class="g" transform="translate(743 537)"><use href="#b"/><text>PDE3A</text></g>
<g id="g-MAOA" class="g" transform="translate(786 539)"><use href="#b"/><text>MAOA</text></g>
<g id="g-CDK2" class="g" transform="translate(822 546)"><use href="#b"/><text>CDK2</text></g>
<g id="g-BCL2L1" class="g" transform="translate(905 540)"><use href="#b"/><text>BCL2L1</text></g>
<g id="g-PRKCA" class="g" transform="translate(983 542)"><use href="#b"/><text>PRKCA</text></g>
<g id="g-CTSD" class="g" transform="translate(521 546)"><use href="#b"/><text>CTSD</text></g>
<g id="g-AKR1C3" class="g" transform="translate(635 556)"><use href="#b"/><text>AKR1C3</text></g>
<g id="g-NKX3-1" class="g" transform="translate(577 562)"><use href="#b"/><text>NKX3-1</text></g>
<g id="g-RXRG" class="g" transform="translate(405 554)"><use href="#b"/><text>RXRG</text></g>
<g id="g-SOAT2" class="g" transform="translate(449 566)"><use href="#b"/><text>SOAT2</text></g>
<g id="g-CHEK2" class="g" transform="translate(485 565)"><use href="#b"/><text>CHEK2</text></g>
<g id="g-IGFBP3" class="g" transform="translate(547 575)"><use href="#b"/><text>IGFBP3</text></g>
<g id="g-MYC" class="g" transform="translate(368 575)"><use href="#b"/><text>MYC</text></g>
<g id="g-ADRA1B" class="g" transform="translate(671 564)"><use href="#b"/><text>ADRA1B</text></g>
<g id="g-CHRNA7" class="g" transform="translate(711 557)"><use href="#b"/><text>CHRNA7</text></g>
<g id="g-GABRA3" class="g" transform="translate(856 559)"><use href="#b"/><text>GABRA3</text></g>
<g id="g-PIK3CG" class="g" transform="translate(931 561)"><use href="#b"/><text>PIK3CG</text></g>
<g id="g-SLC6A2" class="g" transform="translate(759 568)"><use href="#b"/><text>SLC6A2</text></g>
<g id="g-ESR2" class="g" transform="translate(800 575)"><use href="#b"/><text>ESR2</text></g>
<g id="g-ACHE" class="g" transform="translate(893 574)"><use href="#b"/><text>ACHE</text></g>
<g id="g-CASP8" class="g" transform="translate(971 575)"><use href="#b"/><text>CASP8</text></g>
<g id="g-RASA1" class="g" transform="translate(610 584)"><use href="#b"/><text>RASA1</text></g>
<g id="g-ADRA2A" class="g" transform="translate(724 588)"><use href="#b"/><text>ADRA2A</text></g>
<g id="g-MAPK10" class="g" transform="translate(836 590)"><use href="#b"/><text>MAPK10</text></g>
<g id="g-PGR" class="g" transform="translate(646 595)"><use href="#b"/><text>PGR</text></g>
<g id="g-AKR1C1" class="g" transform="translate(468 598)"><use href="#b"/><text>AKR1C1</text></g>
<g id="g-IGF2" class="g" transform="translate(570 601)"><use href="#b"/><text>IGF2</text></g>
<g id="g-NR3C2" class="g" transform="translate(688 597)"><use href="#b"/><text>NR3C2</text></g>
<g id="g-CCNA2" class="g" transform="translate(746 600)"><use href="#b"/><text>CCNA2</text></g>
<g id="g-VEGFA" class="g" transform="translate(871 603)"><use href="#b"/><text>VEGFA</text></g>
<g id="g-HSP90" class="g" transform="translate(909 604)"><use href="#b"/><text>HSP90</text></g>
<g id="g-CASP3" class="g" transform="translate(953 607)"><use href="#b"/><text>CASP3</text></g>
<g id="g-F3" class="g" transform="translate(383 607)"><use href="#b"/><text>F3</text></g>
<g id="g-CCNB1" class="g" transform="translate(428 603)"><use href="#b"/><text>CCNB1</text></g>
<g id="g-CLDN4" class="g" transform="translate(515 603)"><use href="#b"/><text>CLDN4</text></g>
<g id="g-GSK3B" class="g" transform="translate(738 619)"><use href="#b"/><text>GSK3B</text></g>
<g id="g-ADH1C" class="g" transform="translate(810 618)"><use href="#b"/><text>ADH1C</text></g>
<g id="g-CHRM5" class="g" transform="translate(601 619)"><use href="#b"/><text>CHRM5</text></g>
<g id="g-ESR1" class="g" transform="translate(672 632)"><use href="#b"/><text>ESR1</text></g>
<g id="g-MAPK14" class="g" transform="translate(708 629)"><use href="#b"/><text>MAPK14</text></g>
<g id="g-cobT" class="g" transform="translate(779 639)"><use href="#b"/><text>cobT</text></g>
<g id="g-EGFR" class="g" transform="translate(846 632)"><use href="#b"/><text>EGFR</text></g>
<g id="g-JUN" class="g" transform="translate(935 638)"><use href="#b"/><text>JUN</text></g>
<g id="g-PKACA" class="g" transform="translate(885 644)"><use href="#b"/><text>PKACA</text></g>
<g id="g-GJA1" class="g" transform="translate(401 638)"><use href="#b"/><text>GJA1</text></g>
<g id="g-GOT1" class="g" transform="translate(490 626)"><use href="#b"/><text>GOT1</text></g>
<g id="g-PLAT" class="g" transform="translate(458 643)"><use href="#b"/><text>PLAT</text></g>
<g id="g-PPARA" class="g" transform="translate(549 634)"><use href="#b"/><text>PPARA</text></g>
<g id="g-OPRD1" class="g" transform="translate(635 629)"><use href="#b"/><text>OPRD1</text></g>
<g id="g-ABAT" class="g" transform="translate(516 650)"><use href="#b"/><text>ABAT</text></g>
<g id="g-HSF1" class="g" transform="translate(587 653)"><use href="#b"/><text>HSF1</text></g>
<g id="g-CaM" class="g" transform="translate(819 655)"><use href="#b"/><text>CaM</text></g>
<g id="g-Lysozyme" class="g" transform="translate(745 657)"><use href="#b"/><text>Lysozyme</text></g>
<g id="g-CASP9" class="g" transform="translate(914 665)"><use href="#b"/><text>CASP9</text></g>
<g id="g-GABRA6" class="g" transform="translate(669 669)"><use href="#b"/><text>GABRA6</text></g>
<g id="g-ADH1B" class="g" transform="translate(708 666)"><use href="#b"/><text>ADH1B</text></g>
<g id="g-CCL2" class="g" transform="translate(422 665)"><use href="#b"/><text>CCL2</text></g>
<g id="g-THBD" class="g" transform="translate(492 677)"><use href="#b"/><text>THBD</text></g>
<g id="g-CES1" class="g" transform="translate(546 671)"><use href="#b"/><text>CES1</text></g>
<g id="g-CACNA1S" class="g" transform="translate(624 668)"><use href="#b"/><text>CACNA1S</text></g>
<g id="g-BCL2" class="g" transform="translate(789 675)"><use href="#b"/><text>BCL2</text></g>
<g id="g-MAOB" class="g" transform="translate(850 677)"><use href="#b"/><text>MAOB</text></g>
<g id="g-GABRA1" class="g" transform="translate(756 690)"><use href="#b"/><text>GABRA1</text></g>
<g id="g-BAX" class="g" transform="translate(890 690)"><use href="#b"/><text>BAX</text></g>
<g id="g-CXCL8" class="g" transform="translate(446 690)"><use href="#b"/><text>CXCL8</text></g>
<g id="g-SOAT1" class="g" transform="translate(579 687)"><use href="#b"/><text>SOAT1</text></g>
<g id="g-KDR" class="g" transform="translate(613 698)"><use href="#b"/><text>KDR</text></g>
<g id="g-RXRA" class="g" transform="translate(645 703)"><use href="#b"/><text>RXRA</text></g>
<g id="g-PTGS1" class="g" transform="translate(685 704)"><use href="#b"/><text>PTGS1</text></g>
<g id="g-PTGS2" class="g" transform="translate(721 700)"><use href="#b"/><text>PTGS2</text></g>
<g id="g-AKR1B1" class="g" transform="translate(810 703)"><use href="#b"/><text>AKR1B1</text></g>
<g id="g-CYP450" class="g" transform="translate(863 713)"><use href="#b"/><text>CYP450</text></g>
<g id="g-PRKCB" class="g" transform="translate(475 713)"><use href="#b"/><text>PRKCB</text></g>
<g id="g-SERPINE1" class="g" transform="translate(532 704)"><use href="#b"/><text>SERPINE1</text></g>
<g id="g-NCOA2" class="g" transform="translate(766 724)"><use href="#b"/><text>NCOA2</text></g>
<g id="g-ADRB2" class="g" transform="translate(715 735)"><use href="#b"/><text>ADRB2</text></g>
<g id="g-OLR1" class="g" transform="translate(835 733)"><use href="#b"/><text>OLR1</text></g>
<g id="g-EIF6" class="g" transform="translate(501 733)"><use href="#b"/><text>EIF6</text></g>
<g id="g-COL1A1" class="g" transform="translate(576 724)"><use href="#b"/><text>COL1A1</text></g>
<g id="g-IFNG" class="g" transform="translate(623 736)"><use href="#b"/><text>IFNG</text></g>
<g id="g-SCN5A" class="g" transform="translate(666 740)"><use href="#b"/><text>SCN5A</text></g>
<g id="g-RB1" class="g" transform="translate(532 749)"><use href="#b"/><text>RB1</text></g>
<g id="g-ADRA1A" class="g" transform="translate(804 750)"><use href="#b"/><text>ADRA1A</text></g>
<g id="g-PLAU" class="g" transform="translate(771 762)"><use href="#b"/><text>PLAU</text></g>
<g id="g-MAPK1" class="g" transform="translate(565 762)"><use href="#b"/><text>MAPK1</text></g>
<g id="g-NFKBIA" class="g" transform="translate(598 772)"><use href="#b"/><text>NFKBIA</text></g>
<g id="g-IL1B" class="g" transform="translate(632 777)"><use href="#b"/><text>IL1B</text></g>
<g id="g-GRIA2" class="g" transform="translate(666 779)"><use href="#b"/><text>GRIA2</text></g>
<g id="g-Ighg1" class="g" transform="translate(703 778)"><use href="#b"/><text>Ighg1</text></g>
<g id="g-NCOA1" class="g" transform="translate(738 772)"><use href="#b"/><text>NCOA1</text></g>
</g>

<g id="n-SJZT">
<polygon points="651,457 664,436 688,436 700,457 688,478 664,478" fill="#ff00ff"/>
<text x="675" y="457" font-family="Liberation Sans, Arial, sans-serif" font-size="14" text-anchor="middle" dominant-baseline="central" fill="#111">SJZT</text>
</g>
</svg>
